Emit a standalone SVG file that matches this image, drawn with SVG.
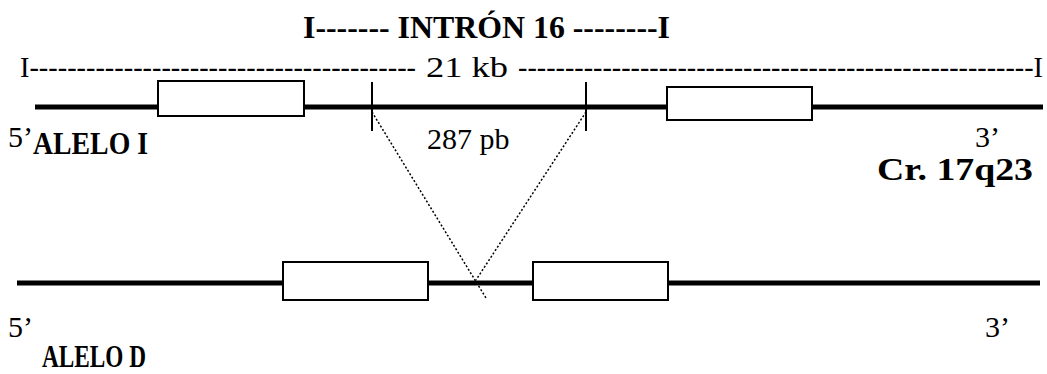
<svg xmlns="http://www.w3.org/2000/svg" width="1047" height="374" viewBox="0 0 1047 374">
<style>
.t{font-family:"Liberation Serif","Times New Roman",serif;fill:#000}
.r{font-size:30px}
.b{font-size:32px;font-weight:bold}
.chr{stroke:#000;stroke-width:5;fill:none}
.exon{fill:#fff;stroke:#000;stroke-width:2}
.tick{stroke:#000;stroke-width:2}
.dot{stroke:#000;stroke-width:1.5;stroke-dasharray:2 2;fill:none}
</style>
<rect width="1047" height="374" fill="#fff"/>
<g id="labels">
<text class="t b" x="303" y="38" textLength="367" lengthAdjust="spacingAndGlyphs">I------- INTRÓN 16 --------I</text>
<text class="t r" x="20" y="77" font-size="28" textLength="396" lengthAdjust="spacingAndGlyphs">I-----------------------------------------</text>
<text class="t r" x="426" y="77" font-size="28" textLength="82" lengthAdjust="spacingAndGlyphs">21 kb</text>
<text class="t r" x="518" y="77" font-size="28" textLength="525" lengthAdjust="spacingAndGlyphs">-------------------------------------------------------I</text>
</g>
<g id="connectors">
<line class="dot" x1="372" y1="112" x2="486" y2="298"/>
<line class="dot" x1="586" y1="112" x2="476" y2="280"/>
</g>
<g id="alelo-i">
<line class="chr" x1="35" y1="107" x2="1043" y2="107"/>
<rect class="exon" x="158" y="81" width="146" height="35"/>
<rect class="exon" x="667" y="87" width="145" height="33"/>
<line class="tick" x1="372" y1="82" x2="372" y2="131"/>
<line class="tick" x1="586" y1="82" x2="586" y2="131"/>
<text class="t r" x="8" y="147">5’</text>
<text class="t b" x="33" y="154" font-size="30" textLength="115" lengthAdjust="spacingAndGlyphs">ALELO I</text>
<text class="t r" x="427" y="149" font-size="31">287 pb</text>
<text class="t r" x="975" y="147">3’</text>
<text class="t b" x="877" y="180" font-size="33" textLength="156" lengthAdjust="spacingAndGlyphs">Cr. 17q23</text>
</g>
<g id="alelo-d">
<line class="chr" x1="17" y1="283" x2="1040" y2="283"/>
<rect class="exon" x="283" y="262" width="145" height="38"/>
<rect class="exon" x="533" y="262" width="135" height="38"/>
<text class="t r" x="8" y="337">5’</text>
<text class="t r" x="985" y="337">3’</text>
<text class="t b" x="42" y="367" font-size="30" textLength="104" lengthAdjust="spacingAndGlyphs">ALELO D</text>
</g>
</svg>
